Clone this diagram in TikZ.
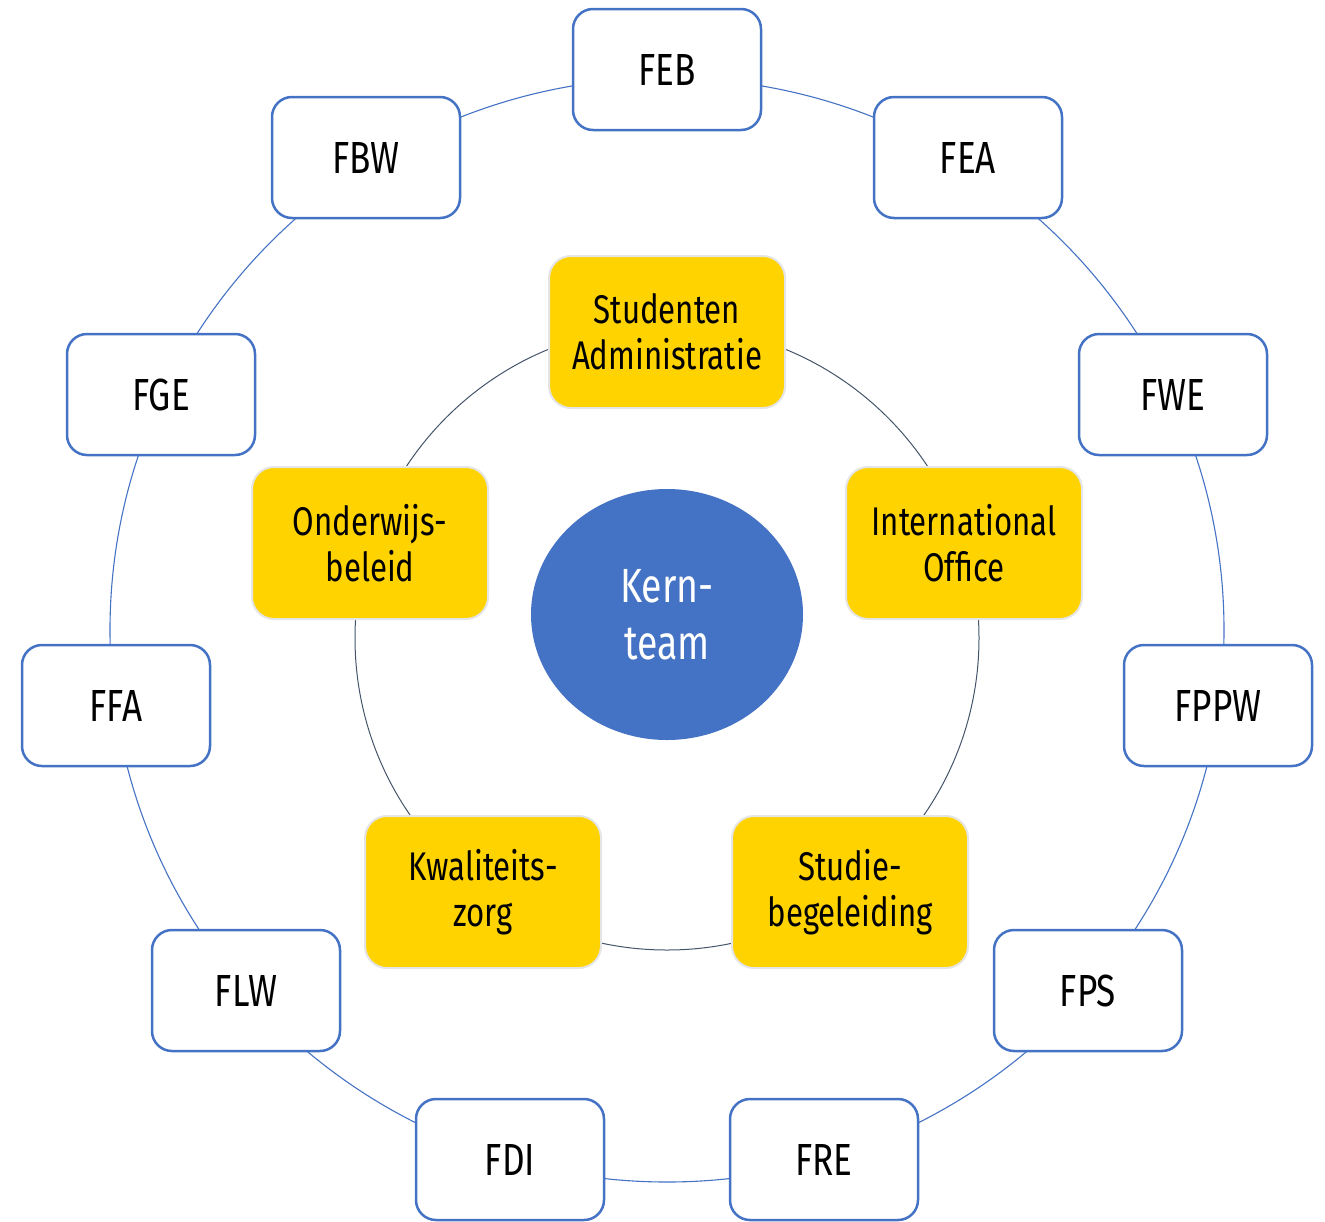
\documentclass[tikz,border=0pt]{standalone}
\usepackage{fontspec}
\setmainfont{Fira Sans}[FakeStretch=0.78]
\usetikzlibrary{shapes.geometric}
\definecolor{ublue}{HTML}{4472C4}
\definecolor{uyellow}{HTML}{FFD300}
\definecolor{ugrey}{HTML}{44546A}
\begin{document}
\begin{tikzpicture}[x=1pt,y=-1pt,
 fac/.style={draw=ublue, line width=2.5pt, fill=white, rounded corners=20pt, minimum width=188pt, minimum height=121pt, inner sep=0pt, font=\fontsize{45}{48}\selectfont},
 dept/.style={draw=black!10, line width=2pt, fill=uyellow, rounded corners=22pt, minimum width=236pt, minimum height=152pt, inner sep=0pt, align=center, font=\fontsize{40}{46}\selectfont},
 core/.style={ellipse, fill=ublue, minimum width=272pt, minimum height=251pt, inner sep=0pt, align=center, text=white, font=\fontsize{48}{57}\selectfont}
]
\useasboundingbox (0,0) rectangle (1325,1221);
% rings
\draw[ublue, line width=1.1pt] (667,630) ellipse [x radius=557, y radius=552];
\draw[ugrey, line width=1pt] (667,638) circle [radius=312];
% faculties
\node[fac] (feb) at (667,69.5) {FEB};
\node[fac] (fea) at (968,157.5) {FEA};
\node[fac] (fbw) at (366,157.5) {FBW};
\node[fac] (fwe) at (1173,394.5) {FWE};
\node[fac] (fge) at (161,394.5) {FGE};
\node[fac] (fppw) at (1218,705.5) {FPPW};
\node[fac] (ffa) at (116,705.5) {FFA};
\node[fac] (fps) at (1088,990.5) {FPS};
\node[fac] (flw) at (246,990.5) {FLW};
\node[fac] (fre) at (824,1159.5) {FRE};
\node[fac] (fdi) at (510,1159.5) {FDI};
% departments
\node[dept] (sa) at (667,332) {Studenten\\Administratie};
\node[dept] (io) at (964,543) {International\\Office};
\node[dept] (ob) at (370,543) {Onderwijs-\\beleid};
\node[dept] (kz) at (483,892) {Kwaliteits-\\zorg};
\node[dept] (sb) at (850,892) {Studie-\\begeleiding};
% core
\node[core] (kt) at (667,614.5) {Kern-\\team};
\end{tikzpicture}
\end{document}
